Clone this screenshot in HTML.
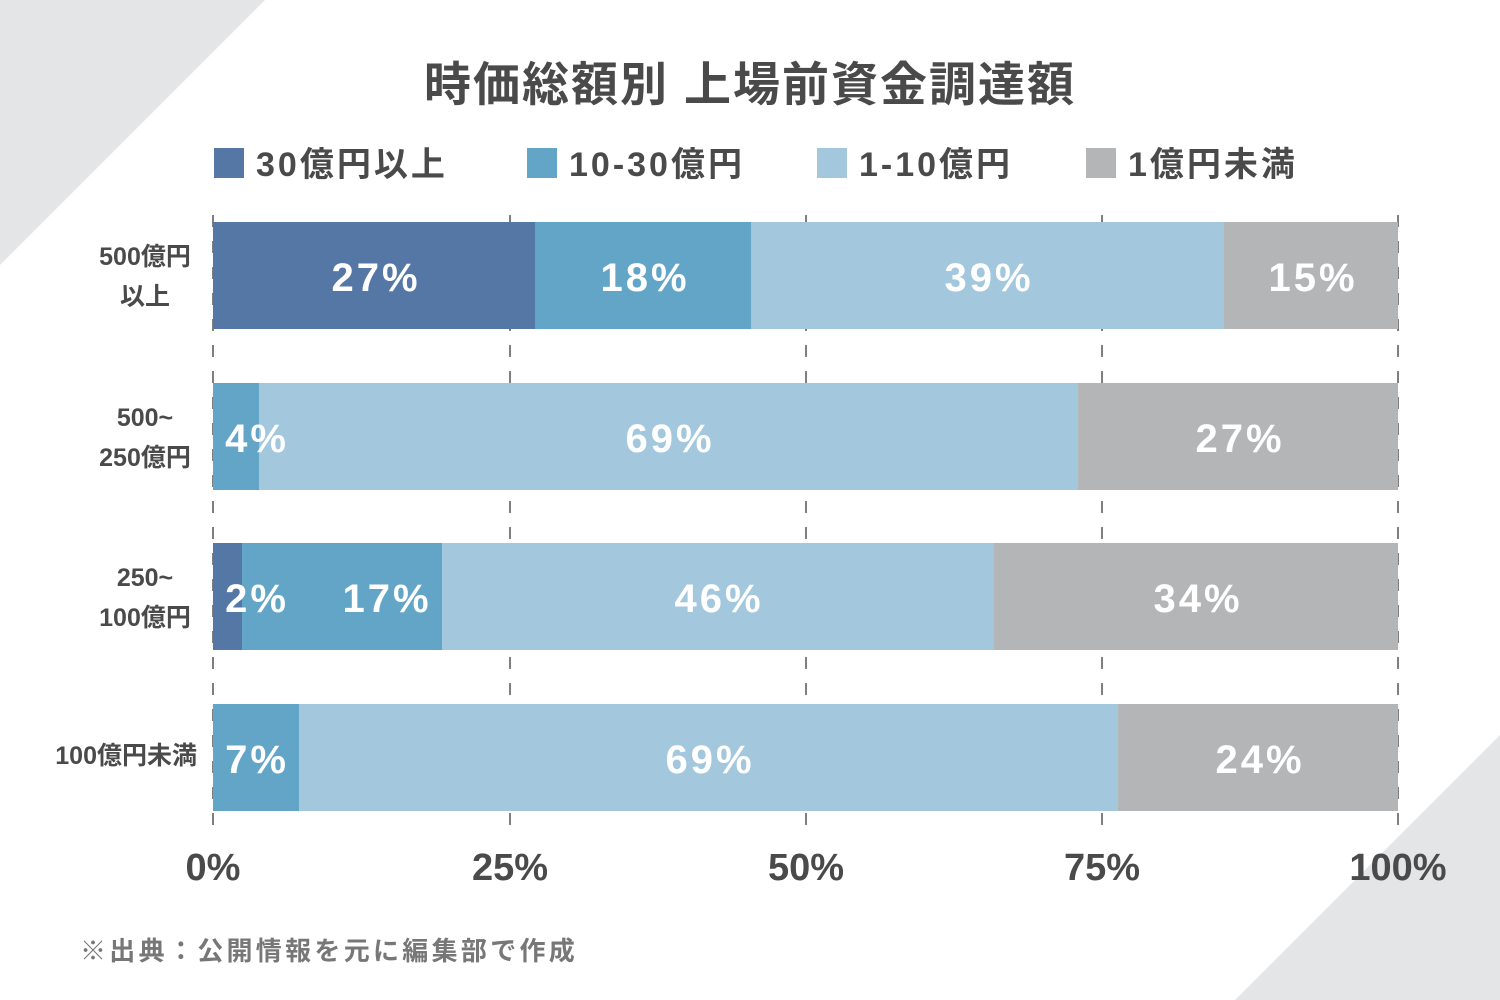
<!DOCTYPE html>
<html><head><meta charset="utf-8"><style>
html,body{margin:0;padding:0;background:#fff;}
svg{display:block;font-family:"Liberation Sans","Noto Sans CJK JP",sans-serif;}
</style></head><body>
<svg width="1500" height="1000" viewBox="0 0 1500 1000" xmlns="http://www.w3.org/2000/svg">
<rect width="1500" height="1000" fill="#fff"/>
<polygon points="0,0 265,0 0,265" fill="#e4e5e7"/>
<polygon points="1500,735 1500,1000 1235,1000" fill="#e4e5e7"/>
<text x="750" y="101" text-anchor="middle" font-size="47" font-weight="bold" fill="#4a4a4a" letter-spacing="2">時価総額別 上場前資金調達額</text>
<g font-size="34" fill="#4a4a4a" font-weight="bold" letter-spacing="3">
<rect x="214" y="148" width="30" height="30" fill="#5577a5"/><text x="256" y="176">30億円以上</text>
<rect x="527" y="148" width="30" height="30" fill="#62a5c7"/><text x="569" y="176">10-30億円</text>
<rect x="817" y="148" width="30" height="30" fill="#a3c7dc"/><text x="859" y="176">1-10億円</text>
<rect x="1086" y="148" width="30" height="30" fill="#b4b5b7"/><text x="1128" y="176">1億円未満</text>
</g>
<g stroke="#555" stroke-width="1.5" stroke-dasharray="12,14">
<line x1="213" y1="215" x2="213" y2="830"/><line x1="510" y1="215" x2="510" y2="830"/><line x1="806" y1="215" x2="806" y2="830"/><line x1="1102" y1="215" x2="1102" y2="830"/><line x1="1398" y1="215" x2="1398" y2="830"/>
</g>
<rect x="213" y="222" width="322" height="107" fill="#5577a5"/>
<rect x="535" y="222" width="216" height="107" fill="#62a5c7"/>
<rect x="751" y="222" width="473" height="107" fill="#a3c7dc"/>
<rect x="1224" y="222" width="174" height="107" fill="#b4b5b7"/>
<rect x="213" y="383" width="46" height="107" fill="#62a5c7"/>
<rect x="259" y="383" width="819" height="107" fill="#a3c7dc"/>
<rect x="1078" y="383" width="320" height="107" fill="#b4b5b7"/>
<rect x="213" y="543" width="29" height="107" fill="#5577a5"/>
<rect x="242" y="543" width="200" height="107" fill="#62a5c7"/>
<rect x="442" y="543" width="552" height="107" fill="#a3c7dc"/>
<rect x="994" y="543" width="404" height="107" fill="#b4b5b7"/>
<rect x="213" y="704" width="86" height="107" fill="#62a5c7"/>
<rect x="299" y="704" width="819" height="107" fill="#a3c7dc"/>
<rect x="1118" y="704" width="280" height="107" fill="#b4b5b7"/>
<g font-size="40" font-weight="bold" fill="#fff" text-anchor="middle" letter-spacing="3">
<text x="376" y="291">27%</text><text x="645" y="291">18%</text><text x="989" y="291">39%</text><text x="1313" y="291">15%</text>
<text x="257" y="452">4%</text><text x="670" y="452">69%</text><text x="1240" y="452">27%</text>
<text x="257" y="612">2%</text><text x="387" y="612">17%</text><text x="719" y="612">46%</text><text x="1198" y="612">34%</text>
<text x="257" y="773">7%</text><text x="710" y="773">69%</text><text x="1260" y="773">24%</text>
</g>
<g font-size="25" fill="#4a4a4a" text-anchor="middle" font-weight="bold">
<text x="145" y="265">500億円</text><text x="145" y="305">以上</text>
<text x="145" y="426">500~</text><text x="145" y="466">250億円</text>
<text x="145" y="586">250~</text><text x="145" y="626">100億円</text>
</g>
<text x="197" y="764" font-size="25" fill="#4a4a4a" text-anchor="end" font-weight="bold">100億円未満</text>
<g font-size="38" fill="#4a4a4a" text-anchor="middle" font-weight="bold">
<text x="213" y="880">0%</text><text x="510" y="880">25%</text><text x="806" y="880">50%</text><text x="1102" y="880">75%</text><text x="1398" y="880">100%</text>
</g>
<text x="80" y="960" font-size="26" font-weight="bold" fill="#777" letter-spacing="3.3">※出典：公開情報を元に編集部で作成</text>
</svg>
</body></html>
